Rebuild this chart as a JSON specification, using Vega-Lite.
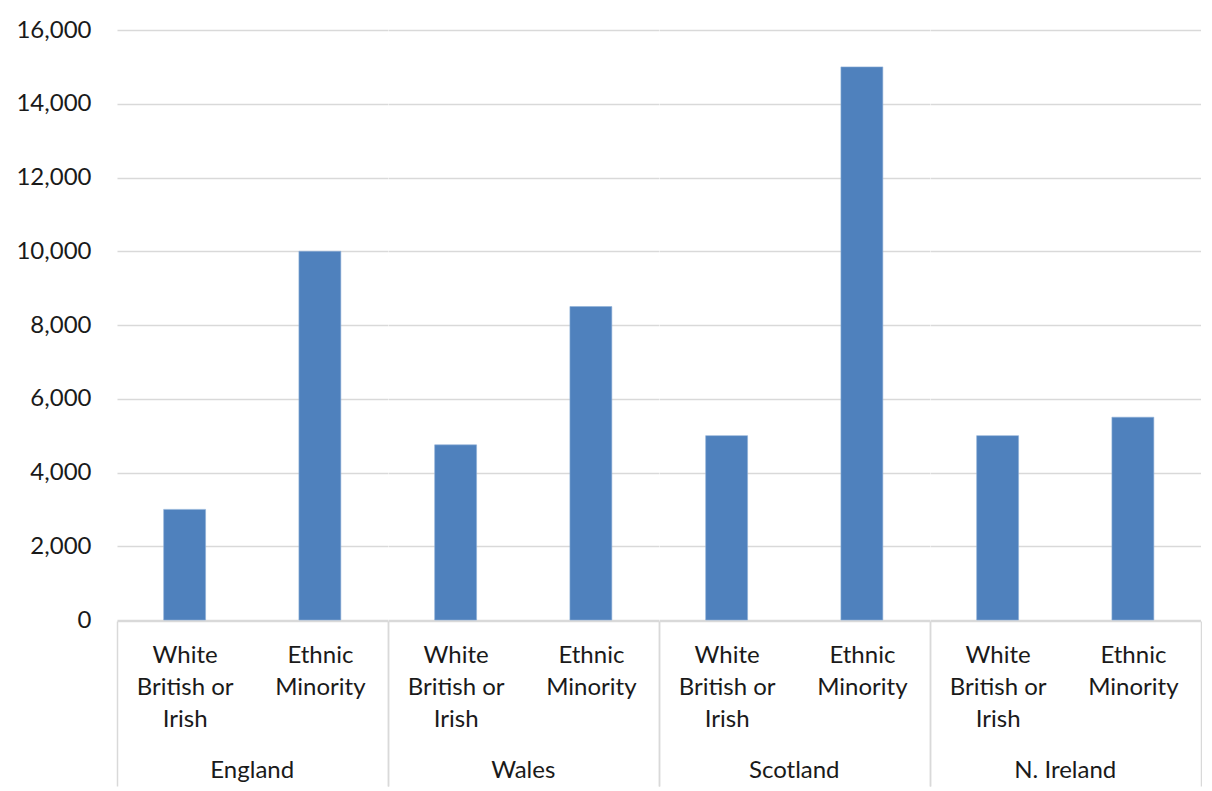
{
  "$schema": "https://vega.github.io/schema/vega-lite/v6.json",
  "background": "white",
  "padding": {"left": 15, "top": 18, "right": 0, "bottom": 0},
  "data": {
    "values": [
      {"country": "England", "group": "White British or Irish", "value": 3000},
      {"country": "England", "group": "Ethnic Minority", "value": 10000},
      {"country": "Wales", "group": "White British or Irish", "value": 4750},
      {"country": "Wales", "group": "Ethnic Minority", "value": 8500},
      {"country": "Scotland", "group": "White British or Irish", "value": 5000},
      {"country": "Scotland", "group": "Ethnic Minority", "value": 15000},
      {"country": "N. Ireland", "group": "White British or Irish", "value": 5000},
      {"country": "N. Ireland", "group": "Ethnic Minority", "value": 5500}
    ]
  },
  "facet": {
    "column": {
      "field": "country",
      "type": "nominal",
      "sort": ["England", "Wales", "Scotland", "N. Ireland"],
      "header": {
        "title": null,
        "labelOrient": "bottom",
        "labelFont": "Lato",
        "labelFontSize": 24,
        "labelColor": "#1a1a1a",
        "labelPadding": -28
      }
    }
  },
  "spacing": 0,
  "spec": {
    "width": 270.5,
    "height": 590,
    "mark": {"type": "bar", "color": "#4F81BD", "stroke": "#8FB0D8", "strokeWidth": 0.6, "width": {"band": 0.31}},
    "encoding": {
      "x": {
        "field": "group",
        "type": "nominal",
        "sort": ["White British or Irish", "Ethnic Minority"],
        "scale": {"paddingInner": 0, "paddingOuter": 0},
        "axis": {
          "title": null,
          "labelAngle": 0,
          "labelExpr": "datum.label === 'White British or Irish' ? ['White', 'British or', 'Irish'] : datum.label === 'Ethnic Minority' ? ['Ethnic', 'Minority'] : ''",
          "labelBaseline": "top",
          "labelLineHeight": 32,
          "labelPadding": -143,
          "labelOverlap": false,
          "tickBand": "extent",
          "tickSize": 165,
          "tickColor": "#d9d9d9",
          "tickWidth": 1.5,
          "tickOpacity": {"condition": {"test": "datum.value === 'White British or Irish'", "value": 0}, "value": 1},
          "domainColor": "#d9d9d9",
          "domainWidth": 1.5
        }
      },
      "y": {
        "field": "value",
        "type": "quantitative",
        "scale": {"domain": [0, 16000], "nice": false},
        "axis": {
          "title": null,
          "values": [0, 2000, 4000, 6000, 8000, 10000, 12000, 14000, 16000],
          "format": ",d",
          "ticks": false,
          "domain": false,
          "labelPadding": 26,
          "gridColor": "#d9d9d9",
          "gridWidth": 1.5
        }
      }
    }
  },
  "config": {
    "view": {"stroke": null},
    "axis": {
      "labelFont": "Lato",
      "labelFontSize": 24,
      "labelColor": "#1a1a1a"
    }
  }
}
